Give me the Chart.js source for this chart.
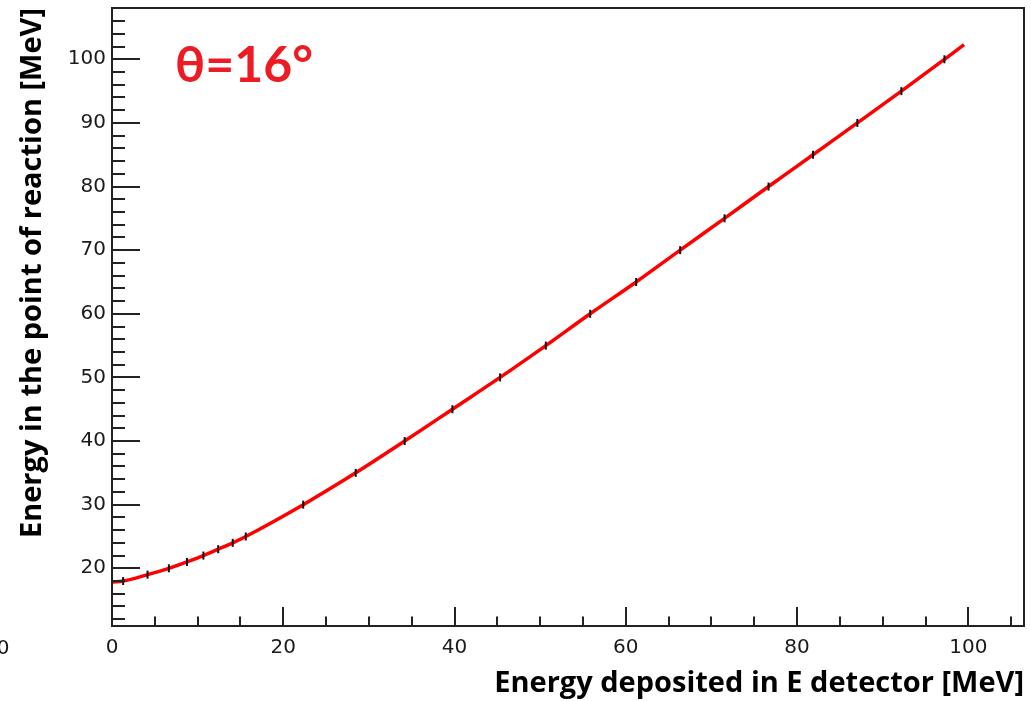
<!DOCTYPE html>
<html>
<head>
<meta charset="utf-8">
<title>Energy calibration, θ=16°</title>
<script src="https://cdn.jsdelivr.net/npm/chart.js@4.4.1/dist/chart.umd.min.js"></script>
<style>
  html, body { margin: 0; padding: 0; background: #ffffff; }
  canvas { display: block; }
</style>
</head>
<body>
<canvas id="calib" width="1031" height="701"></canvas>
<script>
// Measured points: energy deposited in the E detector vs. energy at the reaction point [MeV]
const depositedEnergy = [1.3, 4.15, 6.64, 8.76, 10.67, 12.4, 14.1, 15.62, 22.33, 28.46, 34.18,
                         39.75, 45.32, 50.66, 55.84, 61.21, 66.35, 71.53, 76.67, 81.86, 87.04, 92.18, 97.21];
const reactionEnergy  = [18, 19, 20, 21, 22, 23, 24, 25, 30, 35, 40,
                         45, 50, 55, 60, 65, 70, 75, 80, 85, 90, 95, 100];

// Calibration curve through the measured points, running from 0 to the end of the range
const curveDeposited = [0, 1.3, 4.15, 6.64, 8.76, 10.67, 12.4, 14.1, 15.62, 22.33, 28.46, 34.18,
                        39.75, 45.32, 50.66, 55.84, 61.21, 66.35, 71.53, 76.67, 81.86, 87.04, 92.18, 97.21, 99.5];
const curveReaction  = [17.85, 18, 19, 20, 21, 22, 23, 24, 25, 30, 35, 40,
                        45, 50, 55, 60, 65, 70, 75, 80, 85, 90, 95, 100, 102.3];

// Axis ranges and labelled ticks
const xLimits = [0, 106.5];
const yLimits = [10.93, 108.06];
const xTickValues = [0, 20, 40, 60, 80, 100];
const yTickValues = [20, 30, 40, 50, 60, 70, 80, 90, 100];
const xMinorStep = 5;
const yMinorStep = 2;

const angleLabel = 'θ=16°';

const toPoints = (xs, ys) => xs.map((v, i) => ({ x: v, y: ys[i] }));

// Frame with inward-pointing ticks, plus the angle label and the stray edge label
const frameTicks = {
  id: 'frameTicks',
  afterDraw(chart) {
    const { ctx, chartArea: a, scales: { x, y } } = chart;
    ctx.save();
    ctx.strokeStyle = '#222222';
    ctx.lineWidth = 2;
    ctx.strokeRect(a.left, a.top, a.right - a.left, a.bottom - a.top);

    ctx.beginPath();
    for (let v = xLimits[0]; v <= xLimits[1]; v += xMinorStep) {
      const px = Math.round(x.getPixelForValue(v));
      const len = xTickValues.includes(v) ? 19 : 9.5;
      ctx.moveTo(px, a.bottom);
      ctx.lineTo(px, a.bottom - len);
    }
    for (let v = 12; v <= yLimits[1]; v += yMinorStep) {
      const py = Math.round(y.getPixelForValue(v));
      const len = yTickValues.includes(v) ? 28 : 13;
      ctx.moveTo(a.left, py);
      ctx.lineTo(a.left + len, py);
    }
    ctx.stroke();

    ctx.fillStyle = '#ed1c24';
    ctx.font = 'bold 50px Lato';
    ctx.textAlign = 'left';
    ctx.textBaseline = 'alphabetic';
    ctx.fillText(angleLabel, a.left + 63, a.top + 74);

    ctx.fillStyle = '#1a1a1a';
    ctx.font = '20px "DejaVu Sans"';
    ctx.textAlign = 'center';
    ctx.textBaseline = 'middle';
    ctx.fillText('0', 3, 649);
    ctx.restore();
  }
};

const tickFont = { family: '"DejaVu Sans", sans-serif', size: 20 };
const titleFont = { family: '"Open Sans", sans-serif', size: 29, weight: 'bold' };

new Chart(document.getElementById('calib'), {
  type: 'scatter',
  data: {
    datasets: [
      {
        label: 'points',
        data: toPoints(depositedEnergy, reactionEnergy),
        showLine: false,
        pointStyle: 'line',
        rotation: 90,
        pointRadius: 4,
        pointBorderWidth: 2,
        borderColor: '#111111',
        backgroundColor: '#111111',
        order: 0
      },
      {
        label: 'curve',
        data: toPoints(curveDeposited, curveReaction),
        showLine: true,
        borderColor: '#ff0000',
        borderWidth: 3.5,
        pointRadius: 0,
        cubicInterpolationMode: 'monotone',
        order: 1
      }
    ]
  },
  options: {
    responsive: false,
    animation: false,
    devicePixelRatio: 1,
    layout: { padding: { top: 8, right: 7, left: 0, bottom: 0 } },
    plugins: { legend: { display: false }, tooltip: { enabled: false } },
    scales: {
      x: {
        type: 'linear',
        min: xLimits[0],
        max: xLimits[1],
        grid: { display: false, drawTicks: false },
        border: { display: false },
        afterBuildTicks: s => { s.ticks = xTickValues.map(v => ({ value: v })); },
        afterFit: s => { s.height = 75; s.paddingLeft = 0; s.paddingRight = 0; },
        ticks: { font: tickFont, color: '#1a1a1a', padding: 10, maxRotation: 0 },
        title: {
          display: true,
          text: 'Energy deposited in E detector [MeV]',
          align: 'end',
          color: '#000000',
          font: titleFont,
          padding: { top: 0, bottom: 0 }
        }
      },
      y: {
        type: 'linear',
        min: yLimits[0],
        max: yLimits[1],
        grid: { display: false, drawTicks: false },
        border: { display: false },
        afterBuildTicks: s => { s.ticks = yTickValues.map(v => ({ value: v })); },
        afterFit: s => { s.width = 112; s.paddingTop = 0; s.paddingBottom = 0; },
        ticks: { font: tickFont, color: '#1a1a1a', padding: 6 },
        title: {
          display: true,
          text: 'Energy in the point of reaction [MeV]',
          align: 'end',
          color: '#000000',
          font: titleFont,
          padding: { top: 15, bottom: 0 }
        }
      }
    }
  },
  plugins: [frameTicks]
});
</script>
</body>
</html>
